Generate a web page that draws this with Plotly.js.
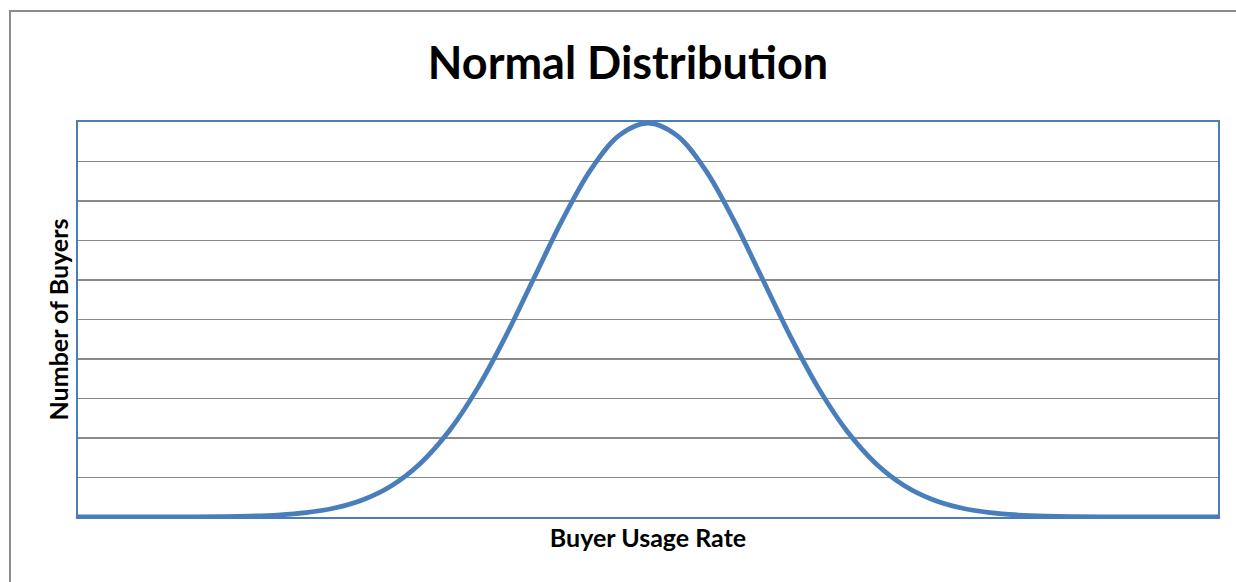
<!DOCTYPE html>
<html>
<head>
<meta charset="utf-8">
<script src="https://cdn.plot.ly/plotly-3.0.1.min.js"></script>
<style>
html,body{margin:0;padding:0;background:#fff;}
#chart{width:1236px;height:582px;}
</style>
</head>
<body>
<div id="chart"></div>
<script>
// Buyer usage rate (standardised units) and number of buyers
var usageRate = [-5,-4.75,-4.5,-4.25,-4,-3.75,-3.5,-3.25,-3,-2.75,-2.5,-2.25,-2,-1.75,-1.5,-1.25,-1,-0.75,-0.5,-0.25,0,
                 0.25,0.5,0.75,1,1.25,1.5,1.75,2,2.25,2.5,2.75,3,3.25,3.5,3.75,4,4.25,4.5,4.75,5];
var buyers = [0.000,0.000,0.000,0.000,0.0001,0.0004,0.0009,0.002,0.0044,0.0091,0.0175,0.0317,0.054,0.0863,0.1295,0.1826,0.242,0.3011,0.3521,0.3867,0.3989,
              0.3867,0.3521,0.3011,0.242,0.1826,0.1295,0.0863,0.054,0.0317,0.0175,0.0091,0.0044,0.002,0.0009,0.0004,0.0001,0.000,0.000,0.000,0.000];

var titleText = "Normal Distribution";
var xTitle = "Buyer Usage Rate";
var yTitle = "Number of Buyers";

var blue = "rgb(74,126,187)";

var trace = {
  x: usageRate,
  y: buyers,
  type: "scatter",
  mode: "lines",
  line: {color: blue, width: 4.8, shape: "spline", smoothing: 1},
  hoverinfo: "skip"
};

var layout = {
  width: 1236,
  height: 582,
  margin: {l: 78, r: 18, t: 122, b: 65, pad: 0},
  paper_bgcolor: "#ffffff",
  plot_bgcolor: "#ffffff",
  showlegend: false,
  font: {family: "Lato, 'Open Sans', sans-serif", color: "#000"},
  title: {
    text: "<b>" + titleText + "</b>",
    font: {family: "Lato, 'Open Sans', sans-serif", size: 45, color: "#000"},
    x: 628/1236, xref: "container", xanchor: "center",
    y: 1 - 63/582, yref: "container", yanchor: "middle"
  },
  xaxis: {
    range: [-5, 5],
    showgrid: false,
    zeroline: false,
    showticklabels: false,
    ticks: "",
    showline: true, mirror: true, linecolor: blue, linewidth: 2,
    title: {text: "<b>" + xTitle + "</b>", font: {size: 25, color: "#000"}, standoff: 11},
    fixedrange: true
  },
  yaxis: {
    range: [0, 0.4],
    dtick: 0.04,
    tick0: 0,
    showgrid: true, gridcolor: "#8a8a8a", gridwidth: 1.5,
    zeroline: false,
    showticklabels: false,
    ticks: "",
    showline: true, mirror: true, linecolor: blue, linewidth: 2,
    title: {text: "<b>" + yTitle + "</b>", font: {size: 25, color: "#000"}, standoff: 0},
    fixedrange: true
  },
  shapes: [{
    type: "rect", xref: "paper", yref: "paper",
    x0: (10 - 78) / 1140, x1: 1.05,
    y0: -0.3, y1: (517 - 11) / 395,
    line: {color: "#8a8a8a", width: 2},
    fillcolor: "rgba(0,0,0,0)",
    layer: "below"
  }]
};

Plotly.newPlot("chart", [trace], layout, {displayModeBar: false, staticPlot: true});
</script>
</body>
</html>
